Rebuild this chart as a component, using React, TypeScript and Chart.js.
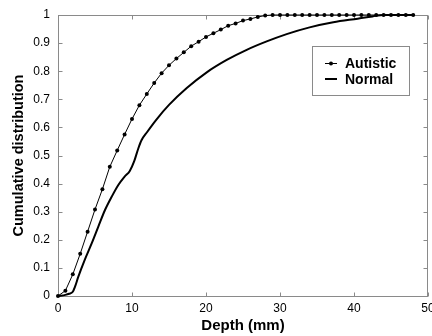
import React, { useEffect, useRef } from "react";
import { Chart, registerables } from "chart.js";
Chart.register(...registerables);

const depthTicks = [0, 10, 20, 30, 40, 50];
const cumTicks = [0, 0.1, 0.2, 0.3, 0.4, 0.5, 0.6, 0.7, 0.8, 0.9, 1];

const autisticDepth = [0, 1, 2, 3, 4, 5, 6, 7, 8, 9, 10, 11, 12, 13, 14, 15, 16, 17, 18, 19, 20, 21, 22, 23, 24, 25, 26, 27, 28, 29, 30, 31, 32, 33, 34, 35, 36, 37, 38, 39, 40, 41, 42, 43, 44, 45, 46, 47, 48];
const autisticCum = [0, 0.019, 0.077, 0.15, 0.229, 0.308, 0.38, 0.46, 0.518, 0.575, 0.63, 0.679, 0.719, 0.758, 0.793, 0.821, 0.845, 0.867, 0.889, 0.905, 0.922, 0.935, 0.948, 0.962, 0.97, 0.98, 0.986, 0.993, 0.998, 1, 1, 1, 1, 1, 1, 1, 1, 1, 1, 1, 1, 1, 1, 1, 1, 1, 1, 1, 1];

const normalDepth = [0, 1, 1.5, 2, 2.3, 2.75, 3.6, 4.55, 5.45, 6.35, 7.25, 8.15, 9, 9.7, 10.3, 10.85, 11.3, 12, 13.3, 15, 17.4, 20.1, 22.8, 25.5, 28.2, 30.9, 34, 37.2, 40.5, 42.5, 44, 46, 48];
const normalCum = [0, 0.004, 0.008, 0.015, 0.033, 0.069, 0.128, 0.187, 0.247, 0.306, 0.353, 0.395, 0.425, 0.445, 0.48, 0.525, 0.555, 0.582, 0.628, 0.68, 0.74, 0.796, 0.84, 0.876, 0.906, 0.932, 0.956, 0.974, 0.987, 0.995, 1, 1, 1];

const seriesNames = ["Autistic", "Normal"];
const xTitle = "Depth (mm)";
const yTitle = "Cumulative distribution";

const FONT = "'Liberation Sans', Arial, sans-serif";
const FRAME = "#8a8a8a";

const framePlugin = {
  id: "frame",
  beforeDatasetsDraw(chart: any) {
    const { ctx, chartArea, scales } = chart;
    const { left, right, top, bottom } = chartArea;
    ctx.save();
    ctx.strokeStyle = FRAME;
    ctx.lineWidth = 1;
    const l = Math.round(left) + 0.5, r = Math.round(right) - 0.5;
    const t = Math.round(top) + 0.5, b = Math.round(bottom) + 0.5;
    ctx.strokeRect(l, t, r - l, b - t);
    const tl = 4;
    ctx.beginPath();
    depthTicks.forEach((v) => {
      const px = Math.round(scales.x.getPixelForValue(v)) + 0.5;
      ctx.moveTo(px, b); ctx.lineTo(px, b - tl);
      ctx.moveTo(px, t); ctx.lineTo(px, t + tl);
    });
    cumTicks.forEach((v) => {
      const py = Math.round(scales.y.getPixelForValue(v)) + 0.5;
      ctx.moveTo(l, py); ctx.lineTo(l + tl, py);
      ctx.moveTo(r, py); ctx.lineTo(r - tl, py);
    });
    ctx.stroke();
    ctx.restore();
  },
};

const legendPlugin = {
  id: "boxLegend",
  afterDraw(chart: any) {
    const { ctx, chartArea } = chart;
    const bx = chartArea.right - 116;
    const by = chartArea.top + 31;
    const bw = 97, bh = 49;
    ctx.save();
    ctx.fillStyle = "#fff";
    ctx.fillRect(bx, by, bw, bh);
    ctx.strokeStyle = FRAME;
    ctx.lineWidth = 1;
    ctx.strokeRect(bx + 0.5, by + 0.5, bw, bh);
    ctx.fillStyle = "#000";
    ctx.strokeStyle = "#000";
    ctx.font = `bold 14px ${FONT}`;
    ctx.textBaseline = "middle";
    const rows = [by + 17, by + 33];
    ctx.lineWidth = 1;
    ctx.beginPath();
    ctx.moveTo(bx + 13, rows[0] + 0.5); ctx.lineTo(bx + 25, rows[0] + 0.5);
    ctx.stroke();
    ctx.beginPath();
    ctx.arc(bx + 19, rows[0] + 0.5, 2, 0, Math.PI * 2);
    ctx.fill();
    ctx.fillText(seriesNames[0], bx + 33, rows[0] + 1);
    ctx.lineWidth = 2;
    ctx.beginPath();
    ctx.moveTo(bx + 13, rows[1]); ctx.lineTo(bx + 25, rows[1]);
    ctx.stroke();
    ctx.fillText(seriesNames[1], bx + 33, rows[1] + 1);
    ctx.restore();
  },
};

export default function App() {
  const ref = useRef<HTMLCanvasElement | null>(null);
  useEffect(() => {
    document.body.style.margin = "0";
    const canvas = ref.current!;
    const chart = new Chart(canvas, {
      type: "scatter",
      data: {
        datasets: [
          {
            label: seriesNames[0],
            data: autisticDepth.map((x, i) => ({ x, y: autisticCum[i] })),
            showLine: true,
            borderColor: "#000",
            backgroundColor: "#000",
            borderWidth: 1,
            pointRadius: 2,
            pointBorderWidth: 0,
            pointBackgroundColor: "#000",
            clip: false as any,
          },
          {
            label: seriesNames[1],
            data: normalDepth.map((x, i) => ({ x, y: normalCum[i] })),
            showLine: true,
            borderColor: "#000",
            backgroundColor: "#000",
            borderWidth: 2,
            pointRadius: 0,
            cubicInterpolationMode: "monotone",
            clip: false as any,
          },
        ],
      },
      options: {
        animation: false,
        responsive: false,
        maintainAspectRatio: false,
        layout: { padding: { top: 15, right: 4, left: 0, bottom: 0 } },
        plugins: { legend: { display: false }, tooltip: { enabled: false } },
        scales: {
          x: {
            type: "linear",
            min: 0,
            max: 50,
            afterFit: (s: any) => { s.height = 40; s.paddingLeft = 0; s.paddingRight = 0; },
            afterBuildTicks: (s: any) => { s.ticks = depthTicks.map((v) => ({ value: v })); },
            grid: { display: false, drawTicks: false },
            border: { display: false },
            ticks: { color: "#000", font: { family: FONT, size: 12 }, padding: 5, maxRotation: 0 },
            title: { display: true, text: xTitle, color: "#000", font: { family: FONT, size: 15, weight: "bold" }, padding: { top: 0, bottom: 1 } },
          },
          y: {
            type: "linear",
            min: 0,
            max: 1,
            afterFit: (s: any) => { s.width = 58; s.paddingTop = 0; s.paddingBottom = 0; },
            afterBuildTicks: (s: any) => { s.ticks = cumTicks.map((v) => ({ value: v })); },
            grid: { display: false, drawTicks: false },
            border: { display: false },
            ticks: { color: "#000", font: { family: FONT, size: 12 }, padding: 8, callback: (v: any) => String(Number(Number(v).toFixed(1))) },
            title: { display: true, text: yTitle, color: "#000", font: { family: FONT, size: 14.5, weight: "bold" }, padding: { top: 10, bottom: 0 } },
          },
        },
      },
      plugins: [framePlugin, legendPlugin],
    });
    return () => chart.destroy();
  }, []);
  return (
    <div style={{ width: 432, height: 336 }}>
      <canvas ref={ref} width={432} height={336} style={{ display: "block" }} />
    </div>
  );
}
